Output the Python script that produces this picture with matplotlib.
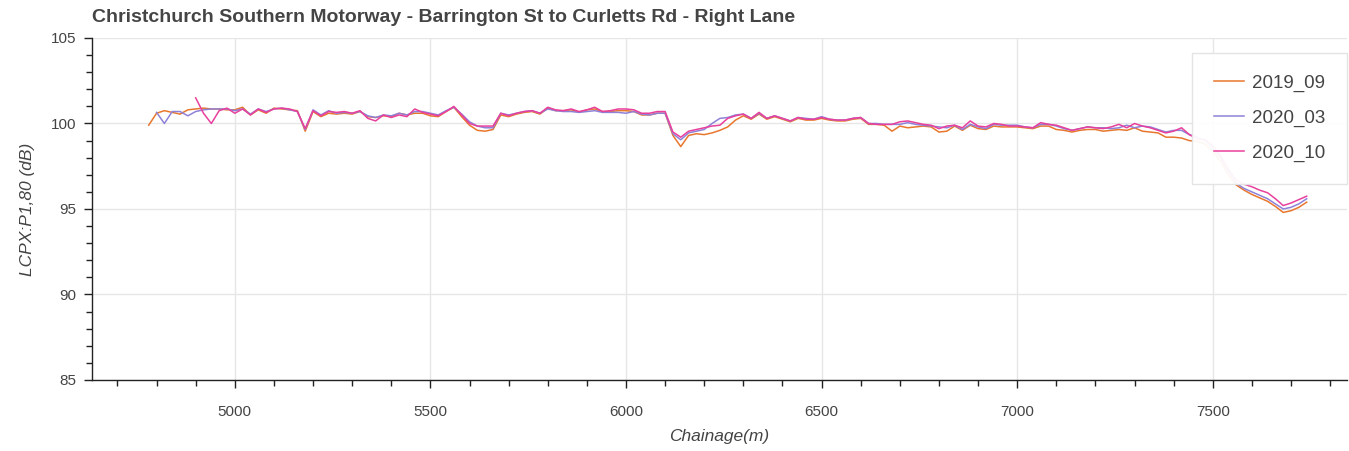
import numpy as np
import matplotlib
matplotlib.use("Agg")
import matplotlib.pyplot as plt
from matplotlib.ticker import MultipleLocator

plt.rcParams['font.family'] = ['Liberation Sans', 'DejaVu Sans']

nan = np.nan
chainage = np.arange(4780, 7741, 20)

s2019_09 = [
    99.9, 100.6, 100.75, 100.65, 100.55, 100.8, 100.85, 100.9, 100.85, 100.85,
    100.8, 100.8, 100.95, 100.5, 100.8, 100.6, 100.9, 100.85, 100.8, 100.75,
    99.55, 100.7, 100.4, 100.6, 100.55, 100.6, 100.55, 100.7, 100.4, 100.35,
    100.45, 100.4, 100.6, 100.5, 100.6, 100.6, 100.45, 100.4, 100.7, 100.95,
    100.4, 99.9, 99.6, 99.55, 99.65, 100.5, 100.4, 100.55, 100.65, 100.7,
    100.55, 100.9, 100.75, 100.75, 100.8, 100.65, 100.8, 100.85, 100.7, 100.7,
    100.75, 100.75, 100.7, 100.5, 100.5, 100.6, 100.6, 99.3, 98.65, 99.3,
    99.4, 99.35, 99.45, 99.6, 99.8, 100.2, 100.45, 100.25, 100.55, 100.25,
    100.4, 100.25, 100.1, 100.3, 100.2, 100.2, 100.3, 100.2, 100.15, 100.15,
    100.25, 100.3, 99.95, 99.95, 99.9, 99.55, 99.85, 99.75, 99.8, 99.85,
    99.8, 99.5, 99.55, 99.85, 99.6, 99.9, 99.7, 99.65, 99.85, 99.8,
    99.8, 99.8, 99.75, 99.7, 99.85, 99.85, 99.65, 99.6, 99.5, 99.6,
    99.65, 99.65, 99.55, 99.6, 99.65, 99.6, 99.75, 99.55, 99.5, 99.45,
    99.2, 99.2, 99.15, 99.0, 98.95, 98.8, 98.4, 97.8, 97.0, 96.4,
    96.1, 95.85, 95.65, 95.45, 95.15, 94.8, 94.9, 95.1, 95.4,
]

s2020_03 = [
    nan, 100.65, 100.0, 100.7, 100.7, 100.45, 100.7, 100.8, 100.85, 100.85,
    100.85, 100.75, 100.85, 100.55, 100.85, 100.7, 100.85, 100.9, 100.8, 100.7,
    99.65, 100.8, 100.5, 100.75, 100.6, 100.65, 100.6, 100.7, 100.45, 100.35,
    100.5, 100.45, 100.6, 100.5, 100.7, 100.7, 100.6, 100.5, 100.75, 100.95,
    100.55, 100.1, 99.85, 99.75, 99.75, 100.6, 100.5, 100.6, 100.7, 100.75,
    100.6, 100.85, 100.75, 100.7, 100.7, 100.65, 100.7, 100.75, 100.65, 100.65,
    100.65, 100.6, 100.7, 100.55, 100.5, 100.6, 100.6, 99.4, 99.05, 99.45,
    99.55, 99.65, 100.0, 100.3, 100.35, 100.5, 100.55, 100.3, 100.6, 100.3,
    100.45, 100.3, 100.15, 100.35, 100.3, 100.25, 100.4, 100.25, 100.2, 100.2,
    100.3, 100.35, 100.0, 100.0, 99.95, 99.95, 99.95, 100.05, 99.95, 99.9,
    99.85, 99.8, 99.75, 99.9, 99.65, 99.95, 99.8, 99.7, 99.95, 99.9,
    99.9, 99.9, 99.8, 99.75, 99.95, 99.95, 99.85, 99.7, 99.6, 99.7,
    99.8, 99.75, 99.75, 99.7, 99.75, 99.9, 99.75, 99.85, 99.8, 99.65,
    99.5, 99.6, 99.6, 99.35, 99.2, 99.0, 98.6, 98.0, 97.2, 96.5,
    96.2, 96.0, 95.8, 95.6, 95.3, 95.0, 95.1, 95.3, 95.6,
]

s2020_10 = [
    nan, nan, nan, nan, nan, nan, 101.5, 100.6, 100.0, 100.75,
    100.9, 100.6, 100.85, 100.5, 100.85, 100.65, 100.85, 100.9, 100.85, 100.7,
    99.7, 100.75, 100.45, 100.7, 100.65, 100.7, 100.6, 100.75, 100.3, 100.15,
    100.5, 100.35, 100.5, 100.4, 100.85, 100.65, 100.55, 100.45, 100.7, 101.0,
    100.5, 100.0, 99.85, 99.85, 99.85, 100.6, 100.45, 100.6, 100.7, 100.75,
    100.6, 100.95, 100.8, 100.75, 100.85, 100.7, 100.8, 100.95, 100.7, 100.75,
    100.85, 100.85, 100.8, 100.6, 100.6, 100.7, 100.7, 99.5, 99.2, 99.55,
    99.65, 99.75, 99.85, 99.9, 100.3, 100.45, 100.55, 100.3, 100.65, 100.3,
    100.45, 100.3, 100.15, 100.35, 100.25, 100.25, 100.35, 100.25, 100.2, 100.2,
    100.3, 100.35, 100.0, 99.95, 99.95, 99.95, 100.1, 100.15, 100.05, 99.95,
    99.9, 99.7, 99.85, 99.9, 99.75, 100.15, 99.85, 99.8, 100.0, 99.95,
    99.85, 99.85, 99.8, 99.75, 100.05, 99.95, 99.9, 99.75, 99.6, 99.7,
    99.8, 99.75, 99.7, 99.8, 99.95, 99.75, 100.0, 99.85, 99.75, 99.6,
    99.45, 99.55, 99.75, 99.35, 99.1, 99.05, 98.7, 98.1, 97.3, 96.7,
    96.45, 96.3, 96.1, 95.95, 95.6, 95.2, 95.35, 95.55, 95.75,
]

series_names = ['2019_09', '2020_03', '2020_10']
series_values = [s2019_09, s2020_03, s2020_10]
colors = ['#E8772E', '#8E82D8', '#E8409C']

title = 'Christchurch Southern Motorway - Barrington St to Curletts Rd - Right Lane'
x_label = 'Chainage(m)'
y_label = 'LCPX:P1,80 (dB)'

W, H = 1349, 451
fig = plt.figure(figsize=(W / 100, H / 100), dpi=100)
left, right, top, bottom = 92, 1347, 38, 380
ax = fig.add_axes([left / W, 1 - bottom / H, (right - left) / W, (bottom - top) / H])

for name, vals, c in zip(series_names, series_values, colors):
    ax.plot(chainage, vals, color=c, lw=1.1, label=name, solid_joinstyle='round')

ax.set_xlim(4635, 7843)
ax.set_ylim(85, 105)
ax.xaxis.set_major_locator(MultipleLocator(500))
ax.xaxis.set_minor_locator(MultipleLocator(100))
ax.yaxis.set_major_locator(MultipleLocator(5))
ax.yaxis.set_minor_locator(MultipleLocator(1))
ax.grid(True, which='major', color='#e6e6e6', lw=1)
ax.set_axisbelow(True)
for s in ['top', 'right']:
    ax.spines[s].set_visible(False)
for s in ['left', 'bottom']:
    ax.spines[s].set_color('#222222')
    ax.spines[s].set_linewidth(1.0)
ax.tick_params(which='major', length=6, width=1, color='#222222', labelsize=11,
               labelcolor='#444444')
ax.tick_params(axis='x', which='major', pad=12)
ax.tick_params(axis='y', which='major', pad=5)
ax.tick_params(which='minor', length=4, width=1, color='#222222')

ax.set_xlabel(x_label, fontsize=12.5, fontstyle='italic', color='#444444', labelpad=7)
ax.set_ylabel(y_label, fontsize=12.5, fontstyle='italic', color='#444444', labelpad=12)

fig.text(left / W, 1 - 18 / H, title, fontsize=14, fontweight='bold', color='#444444',
         ha='left', va='center')

leg = ax.legend(loc='upper right', bbox_to_anchor=(1.0, (bottom - 53) / (bottom - top)),
                borderaxespad=0, fontsize=13.5, frameon=True, fancybox=False,
                handlelength=1.6, handletextpad=0.45, labelspacing=0.95,
                borderpad=1.15)
leg.get_frame().set_edgecolor('#e3e3e3')
leg.get_frame().set_linewidth(1)
leg.get_frame().set_facecolor('white')
leg.get_frame().set_alpha(0.95)
for t in leg.get_texts():
    t.set_color('#444444')

fig.savefig('out.png', dpi=100)
